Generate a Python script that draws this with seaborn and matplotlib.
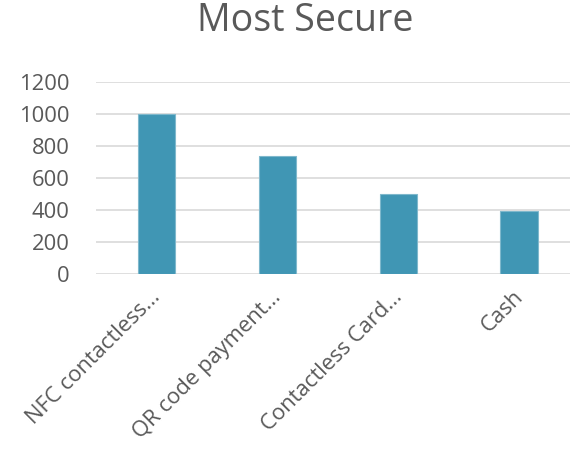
import matplotlib
matplotlib.use("Agg")
import matplotlib.pyplot as plt
import matplotlib.transforms as mtransforms
import pandas as pd
import seaborn as sns

categories = ["NFC contactless...", "QR code payment...", "Contactless Card...", "Cash"]
values = [1000, 735, 500, 395]
y_ticks = [0, 200, 400, 600, 800, 1000, 1200]

df = pd.DataFrame({"method": categories, "count": values})

sns.set_theme(style="white")
plt.rcParams["font.family"] = ["Open Sans", "DejaVu Sans"]

text_color = "#595959"
bar_color = "#4096B4"

fig = plt.figure(figsize=(5.70, 4.49), dpi=100)
ax = fig.add_axes([96 / 570, 1 - 274 / 449, 1 - 96 / 570, (274 - 82) / 449])

sns.barplot(data=df, x="method", y="count", color=bar_color, width=0.31,
            edgecolor="#7FB8CC", linewidth=0.8, saturation=1, ax=ax, zorder=3)

ax.set_ylim(0, 1200)
ax.set_xlim(-0.5, 3.42)
ax.set_yticks(y_ticks)
ax.set_yticklabels([str(v) for v in y_ticks])
ax.yaxis.grid(True, color="#D9D9D9", linewidth=1.2, zorder=0)
ax.set_axisbelow(True)
for s in ax.spines.values():
    s.set_visible(False)
ax.set_xlabel("")
ax.set_ylabel("")
ax.tick_params(axis="both", length=0, labelsize=15.8, colors=text_color)
ax.tick_params(axis="y", pad=19)
ax.tick_params(axis="x", pad=9)

offset = mtransforms.ScaledTranslation(8 / 100, 0, fig.dpi_scale_trans)
for lab in ax.get_xticklabels():
    lab.set_rotation(45)
    lab.set_ha("right")
    lab.set_va("top")
    lab.set_rotation_mode("default")
    lab.set_transform(lab.get_transform() + offset)

fig.suptitle("Most Secure", x=0.535, y=0.995, fontsize=27, color=text_color, va="top")

fig.savefig("out.png", dpi=100)
